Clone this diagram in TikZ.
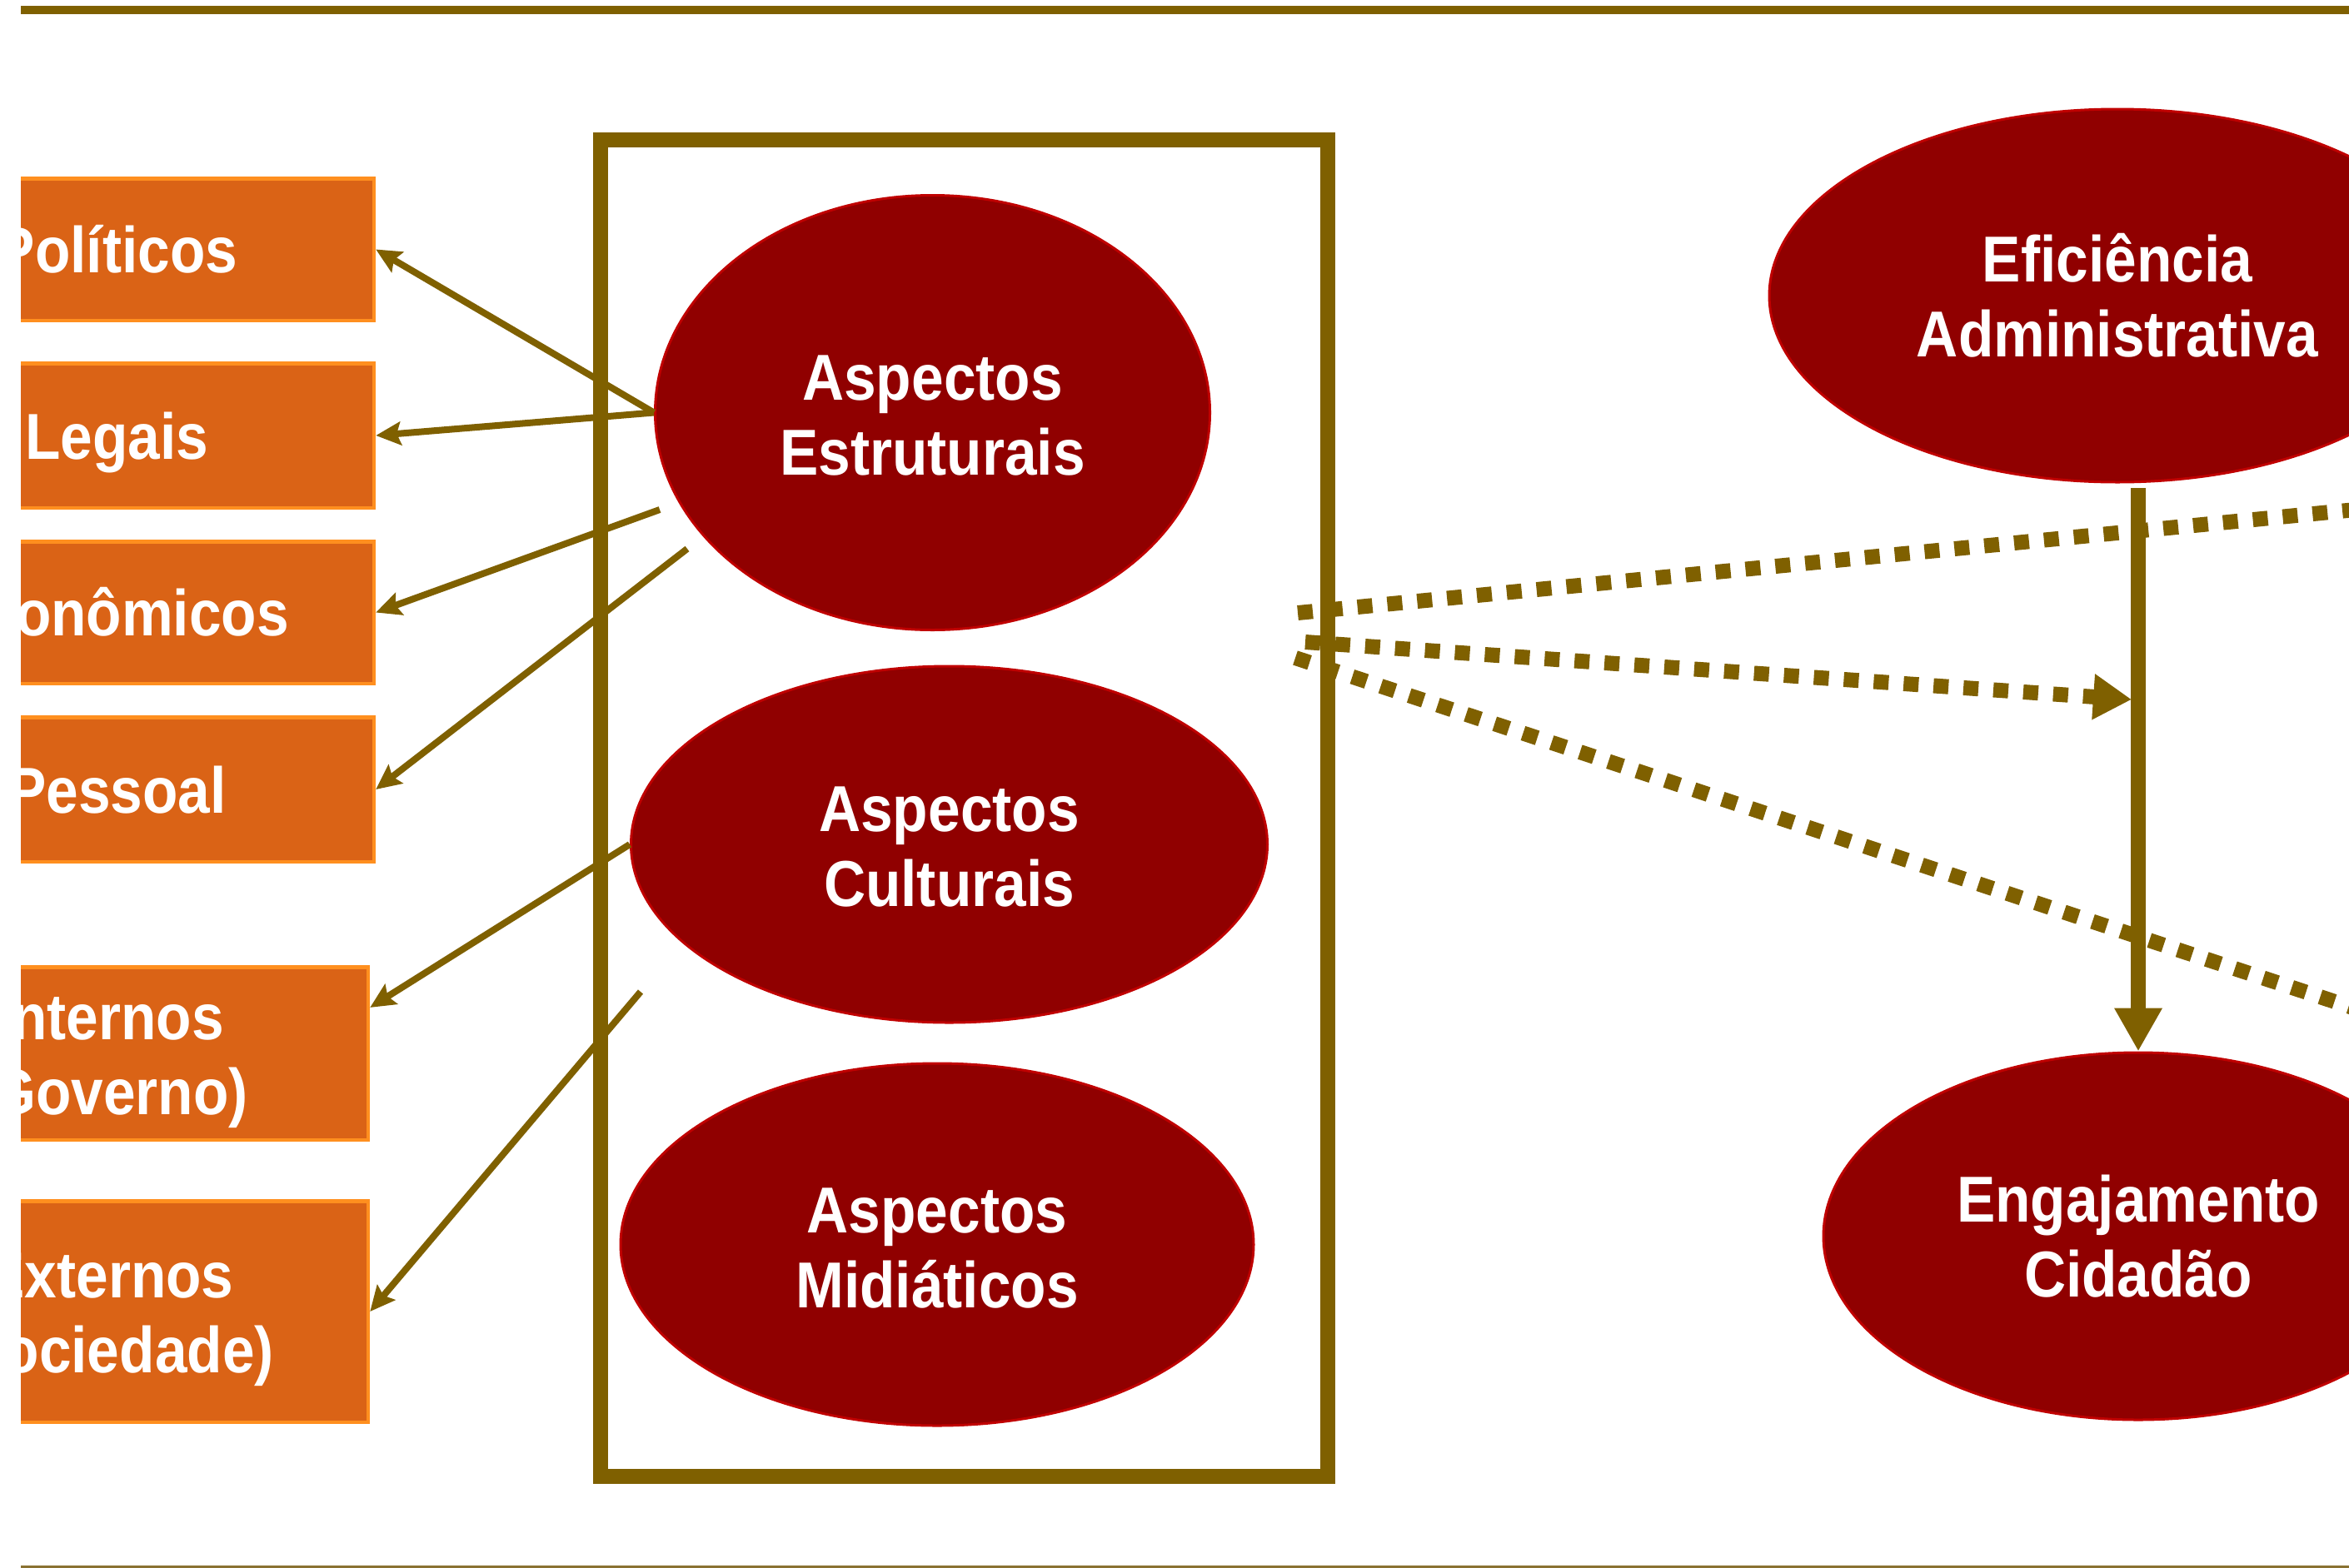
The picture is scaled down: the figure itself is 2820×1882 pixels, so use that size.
\documentclass[tikz,border=0pt]{standalone}
\usepackage{fontspec}
\newfontfamily\lblfont[FakeStretch=0.89]{Liberation Sans}
\usetikzlibrary{arrows.meta,shapes.geometric,calc}
\definecolor{olivebrown}{HTML}{7F6000}
\definecolor{rulebottom}{HTML}{8A7232}
\definecolor{boxorange}{HTML}{DA6316}
\definecolor{boxedge}{HTML}{FF8F1F}
\definecolor{ovalred}{HTML}{900000}
\definecolor{ovaledge}{HTML}{C00000}
\newcommand{\tallfirst}[1]{\rule{0pt}{#1}}
\begin{document}
\begin{tikzpicture}[x=1pt,y=-1pt,
  lbl/.style={font=\lblfont\bfseries\fontsize{78}{90}\selectfont, text=white},
  sidebox/.style={lbl, rectangle, fill=boxorange, draw=boxedge, line width=4.5pt, inner sep=0pt},
  oneline/.style={text height=56pt, text depth=0pt},
  oval/.style={lbl, ellipse, fill=ovalred, draw=ovaledge, line width=3pt, inner sep=0pt, align=center},
  link/.style={draw=olivebrown, line width=8pt, -{Stealth[length=30pt,width=28pt,inset=5pt]}},
  dashlink/.style={draw=olivebrown, line width=18pt, dash pattern=on 18pt off 18pt},
  rule/.style={line width=10.6pt, draw=olivebrown}
]
\useasboundingbox (0,0) rectangle (2820,1882);
\begin{scope}
\clip (25,0) rectangle (2820,1882);
% rules
\draw[rule] (25,12) -- (2820,12);
\draw[line width=3pt, draw=rulebottom] (25,1881) -- (2820,1881);
% container frame
\node[draw=olivebrown, line width=18pt, minimum width=872.5pt, minimum height=1605pt, inner sep=0pt] (frame) at (1157.25,970.5) {};
% left boxes
\node[sidebox, oneline, minimum width=617pt, minimum height=170.5pt] (pol) at (140.5,299.5) {Políticos};
\node[sidebox, oneline, minimum width=617pt, minimum height=173.5pt] (leg) at (140.5,523) {Legais};
\node[sidebox, oneline, minimum width=617pt, minimum height=170.5pt] (eco) at (140.5,735.5) {Econômicos};
\node[sidebox, oneline, minimum width=617pt, minimum height=173.5pt] (pes) at (140.5,948) {Pessoal};
\node[sidebox, align=center, minimum width=620pt, minimum height=207.5pt] (int) at (132,1265) {\tallfirst{74pt}Internos\\(Governo)};
\node[sidebox, align=center, minimum width=620pt, minimum height=265.5pt] (ext) at (132,1575) {\tallfirst{74pt}Externos\\(Sociedade)};
% ellipses
\node[oval, minimum width=666pt, minimum height=522pt] (es) at (1119.5,495.5) {\tallfirst{61pt}Aspectos\\Estruturais};
\node[oval, minimum width=764pt, minimum height=428pt] (ct) at (1139.5,1014) {\tallfirst{60pt}Aspectos\\Culturais};
\node[oval, minimum width=760pt, minimum height=435pt] (md) at (1125,1494.5) {\tallfirst{62pt}Aspectos\\Midiáticos};
\node[oval, minimum width=836pt, minimum height=448pt] (ef) at (2542,355) {Eficiência\\Administrativa};
\node[oval, minimum width=756pt, minimum height=441pt] (en) at (2567,1484.5) {Engajamento\\Cidadão};
% free ends
\coordinate (e3) at (792,612);
\coordinate (e4) at (825,659);
\coordinate (e6) at (769,1191);
\coordinate (d1s) at (1558,736);
\coordinate (d1e) at (2900,605);
\coordinate (d2s) at (1567,771);
\coordinate (d2e) at (2559,840);
\coordinate (d3s) at (1555,790);
\coordinate (d3e) at (2900,1235);
\coordinate (vs) at (2567,586);
% left arrows
\draw[link] (es.west) -- (pol.east);
\draw[link] (es.west) -- (leg.east);
\draw[link] (e3) -- (eco.east);
\draw[link] (e4) -- (pes.east);
\draw[link] (ct.west) -- ($(int.north east)!0.24!(int.south east)$);
\draw[link] (e6) -- (ext.east);
% dashed lines
\draw[dashlink] (d1s) -- (d1e);
\draw[dashlink, -{Triangle[length=46pt,width=52pt]}] (d2s) -- (d2e);
\draw[dashlink] (d3s) -- (d3e);
% vertical arrow
\draw[draw=olivebrown, line width=18pt, -{Triangle[length=52pt,width=54pt]}] (vs) -- (en.north);
\end{scope}
\end{tikzpicture}
\end{document}
